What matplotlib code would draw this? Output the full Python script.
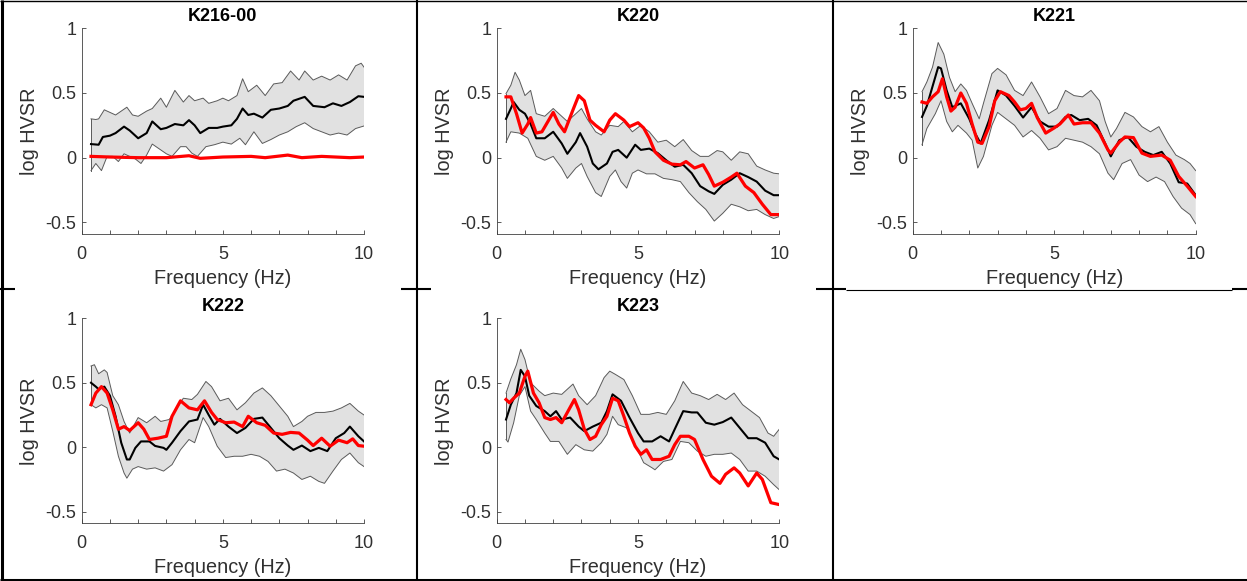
import matplotlib.pyplot as plt
from matplotlib.lines import Line2D
import numpy as np

plt.rcParams['font.family'] = ['Liberation Sans', 'DejaVu Sans']
plt.rcParams['lines.solid_joinstyle'] = 'round'

stations = ['K216-00', 'K220', 'K221', 'K222', 'K223']

# (frequency Hz, log HVSR)
k216_mean = [(0.33, 0.105), (0.6, 0.10), (0.75, 0.16), (1.0, 0.17), (1.2, 0.19), (1.5, 0.24), (1.7, 0.21),
             (2.0, 0.15), (2.3, 0.19), (2.5, 0.28), (2.8, 0.22), (3.0, 0.23), (3.3, 0.26), (3.6, 0.25),
             (3.8, 0.29), (4.0, 0.25), (4.2, 0.19), (4.5, 0.23), (4.8, 0.23), (5.0, 0.24), (5.3, 0.25),
             (5.5, 0.30), (5.7, 0.38), (5.9, 0.33), (6.1, 0.34), (6.4, 0.31), (6.7, 0.37), (7.0, 0.38),
             (7.3, 0.40), (7.5, 0.44), (7.9, 0.47), (8.2, 0.40), (8.6, 0.39), (8.9, 0.42), (9.2, 0.40),
             (9.5, 0.43), (9.8, 0.475), (10.0, 0.47)]
k216_upper = [(0.33, 0.30), (0.5, 0.295), (0.6, 0.30), (0.8, 0.37), (1.0, 0.35), (1.2, 0.33), (1.6, 0.39),
              (1.8, 0.33), (2.0, 0.32), (2.3, 0.36), (2.5, 0.38), (2.8, 0.46), (3.0, 0.39), (3.3, 0.52),
              (3.6, 0.43), (3.8, 0.48), (4.0, 0.44), (4.3, 0.46), (4.5, 0.42), (4.8, 0.44), (5.0, 0.46),
              (5.2, 0.44), (5.5, 0.48), (5.7, 0.61), (5.9, 0.51), (6.2, 0.56), (6.5, 0.48), (6.8, 0.57),
              (7.1, 0.58), (7.4, 0.67), (7.7, 0.60), (7.9, 0.67), (8.2, 0.60), (8.5, 0.63), (8.8, 0.60),
              (9.1, 0.64), (9.4, 0.60), (9.7, 0.71), (9.9, 0.73), (10.0, 0.70)]
k216_lower = [(0.33, -0.10), (0.5, -0.045), (0.7, -0.10), (0.9, 0.01), (1.1, 0.01), (1.3, -0.03), (1.5, 0.03),
              (1.7, 0.01), (1.9, -0.01), (2.1, -0.045), (2.3, 0.02), (2.5, 0.105), (2.8, 0.06), (3.0, 0.03),
              (3.2, 0.01), (3.5, 0.085), (3.7, 0.085), (3.9, 0.035), (4.1, 0.01), (4.4, 0.085), (4.7, 0.10),
              (5.0, 0.12), (5.3, 0.105), (5.6, 0.15), (5.8, 0.10), (6.1, 0.20), (6.4, 0.11), (6.7, 0.14),
              (7.0, 0.175), (7.3, 0.20), (7.6, 0.24), (7.9, 0.27), (8.2, 0.225), (8.5, 0.20), (8.8, 0.175),
              (9.1, 0.19), (9.4, 0.175), (9.7, 0.225), (10.0, 0.245)]
k216_site = [(0.33, 0.01), (1.0, 0.005), (2.0, 0.0), (3.0, 0.0), (3.8, 0.015), (4.2, -0.005), (5.0, 0.005),
             (6.0, 0.01), (6.5, 0.0), (7.3, 0.02), (7.8, 0.0), (8.5, 0.01), (9.0, 0.005), (9.5, 0.0),
             (10.0, 0.005)]

k220_mean = [(0.33, 0.30), (0.5, 0.38), (0.6, 0.43), (0.8, 0.37), (1.0, 0.34), (1.2, 0.26), (1.4, 0.15),
             (1.7, 0.15), (2.0, 0.20), (2.3, 0.11), (2.5, 0.03), (2.8, 0.12), (2.95, 0.19), (3.2, 0.085),
             (3.4, -0.045), (3.6, -0.09), (3.9, -0.045), (4.1, 0.045), (4.3, 0.06), (4.6, 0.0), (4.9, 0.10),
             (5.1, 0.06), (5.4, 0.07), (5.7, 0.035), (6.0, -0.02), (6.3, -0.07), (6.6, -0.055), (6.9, -0.12),
             (7.2, -0.22), (7.5, -0.26), (7.7, -0.28), (8.0, -0.21), (8.3, -0.17), (8.6, -0.12), (8.9, -0.15),
             (9.2, -0.185), (9.5, -0.255), (9.8, -0.29), (10.0, -0.29)]
k220_upper = [(0.33, 0.495), (0.5, 0.56), (0.65, 0.66), (0.8, 0.60), (1.0, 0.48), (1.2, 0.52), (1.4, 0.34),
              (1.7, 0.32), (2.0, 0.38), (2.2, 0.34), (2.5, 0.28), (2.8, 0.34), (3.0, 0.38), (3.2, 0.30),
              (3.5, 0.20), (3.7, 0.175), (4.0, 0.25), (4.3, 0.24), (4.5, 0.28), (4.8, 0.20), (5.1, 0.25),
              (5.4, 0.20), (5.7, 0.12), (6.0, 0.135), (6.3, 0.085), (6.6, 0.14), (6.9, 0.055), (7.2, 0.01),
              (7.5, 0.01), (7.8, 0.055), (8.0, 0.045), (8.3, -0.02), (8.6, 0.045), (8.9, 0.03), (9.2, -0.065),
              (9.5, -0.095), (9.8, -0.12), (10.0, -0.125)]
k220_lower = [(0.33, 0.12), (0.5, 0.20), (0.8, 0.19), (1.1, 0.15), (1.4, 0.01), (1.7, -0.02), (2.0, 0.01),
              (2.3, -0.08), (2.5, -0.16), (2.8, -0.08), (3.0, -0.045), (3.2, -0.145), (3.5, -0.27), (3.7, -0.30),
              (4.0, -0.145), (4.2, -0.095), (4.4, -0.185), (4.6, -0.235), (4.8, -0.12), (5.0, -0.095),
              (5.3, -0.125), (5.6, -0.125), (5.9, -0.16), (6.2, -0.17), (6.5, -0.185), (6.8, -0.27), (7.1, -0.34),
              (7.4, -0.40), (7.7, -0.49), (8.0, -0.43), (8.3, -0.36), (8.6, -0.38), (8.9, -0.41), (9.2, -0.40),
              (9.5, -0.44), (9.8, -0.47), (10.0, -0.455)]
k220_site = [(0.33, 0.47), (0.5, 0.47), (0.7, 0.34), (0.9, 0.19), (1.1, 0.26), (1.2, 0.31), (1.4, 0.19),
             (1.6, 0.20), (2.0, 0.35), (2.2, 0.26), (2.4, 0.20), (2.7, 0.37), (2.9, 0.48), (3.1, 0.44),
             (3.3, 0.29), (3.5, 0.25), (3.8, 0.20), (4.0, 0.29), (4.2, 0.34), (4.5, 0.29), (4.7, 0.24),
             (5.0, 0.27), (5.2, 0.23), (5.4, 0.15), (5.6, 0.045), (5.9, -0.02), (6.2, -0.05), (6.5, -0.055),
             (6.7, -0.03), (7.0, -0.08), (7.3, -0.055), (7.5, -0.13), (7.7, -0.22), (8.0, -0.19), (8.3, -0.15),
             (8.5, -0.12), (8.8, -0.22), (9.1, -0.27), (9.4, -0.36), (9.7, -0.44), (10.0, -0.44)]

k221_mean = [(0.33, 0.315), (0.5, 0.40), (0.7, 0.55), (0.9, 0.70), (1.0, 0.69), (1.2, 0.52), (1.4, 0.39),
             (1.7, 0.42), (2.0, 0.30), (2.2, 0.19), (2.4, 0.11), (2.7, 0.29), (3.0, 0.52), (3.3, 0.48),
             (3.6, 0.40), (3.9, 0.31), (4.2, 0.39), (4.5, 0.28), (4.8, 0.24), (5.1, 0.24), (5.4, 0.315),
             (5.6, 0.33), (5.9, 0.29), (6.2, 0.30), (6.5, 0.25), (6.8, 0.11), (7.0, 0.01), (7.3, 0.135),
             (7.6, 0.16), (7.9, 0.085), (8.2, 0.045), (8.5, 0.02), (8.8, 0.045), (9.1, -0.045), (9.4, -0.19),
             (9.7, -0.20), (10.0, -0.29)]
k221_upper = [(0.33, 0.51), (0.5, 0.585), (0.7, 0.70), (0.9, 0.89), (1.1, 0.80), (1.3, 0.62), (1.5, 0.51),
              (1.7, 0.57), (1.9, 0.52), (2.1, 0.42), (2.35, 0.30), (2.5, 0.42), (2.8, 0.65), (3.0, 0.69),
              (3.3, 0.64), (3.6, 0.52), (3.9, 0.48), (4.2, 0.585), (4.5, 0.47), (4.8, 0.34), (5.1, 0.38),
              (5.4, 0.52), (5.7, 0.48), (6.0, 0.47), (6.3, 0.52), (6.6, 0.44), (6.8, 0.28), (7.0, 0.16),
              (7.2, 0.225), (7.5, 0.35), (7.8, 0.315), (8.1, 0.24), (8.4, 0.20), (8.7, 0.24), (9.0, 0.12),
              (9.3, 0.02), (9.6, -0.015), (9.8, -0.045), (10.0, -0.10)]
k221_lower = [(0.33, 0.10), (0.5, 0.225), (0.8, 0.34), (1.0, 0.44), (1.2, 0.28), (1.4, 0.20), (1.6, 0.25),
              (1.9, 0.19), (2.1, 0.135), (2.3, -0.08), (2.5, 0.01), (2.8, 0.25), (3.0, 0.35), (3.3, 0.30),
              (3.6, 0.25), (3.9, 0.16), (4.2, 0.21), (4.5, 0.15), (4.8, 0.06), (5.1, 0.085), (5.4, 0.15),
              (5.7, 0.135), (6.0, 0.12), (6.3, 0.085), (6.6, 0.03), (6.9, -0.12), (7.1, -0.17), (7.4, -0.045),
              (7.7, -0.015), (8.0, -0.135), (8.3, -0.185), (8.6, -0.15), (8.9, -0.185), (9.2, -0.30),
              (9.5, -0.39), (9.8, -0.44), (10.0, -0.51)]
k221_site = [(0.33, 0.43), (0.5, 0.42), (0.7, 0.47), (0.9, 0.51), (1.05, 0.61), (1.2, 0.47), (1.35, 0.36),
             (1.5, 0.39), (1.7, 0.50), (1.9, 0.42), (2.1, 0.26), (2.3, 0.12), (2.45, 0.11), (2.7, 0.24),
             (2.9, 0.44), (3.1, 0.51), (3.4, 0.48), (3.6, 0.43), (3.8, 0.37), (4.0, 0.38), (4.2, 0.42),
             (4.4, 0.31), (4.7, 0.19), (5.0, 0.23), (5.2, 0.26), (5.5, 0.33), (5.7, 0.26), (6.0, 0.27),
             (6.3, 0.27), (6.6, 0.19), (6.9, 0.06), (7.0, 0.035), (7.3, 0.12), (7.5, 0.16), (7.8, 0.155),
             (8.1, 0.035), (8.4, 0.01), (8.8, 0.02), (9.1, -0.02), (9.4, -0.145), (9.7, -0.22), (10.0, -0.30)]

k222_mean = [(0.33, 0.50), (0.5, 0.47), (0.6, 0.45), (0.8, 0.47), (1.0, 0.40), (1.2, 0.24), (1.4, 0.035),
             (1.6, -0.095), (1.7, -0.095), (1.9, -0.005), (2.1, 0.045), (2.4, 0.045), (2.6, 0.01), (2.9, -0.005),
             (3.0, -0.02), (3.2, 0.035), (3.5, 0.125), (3.8, 0.20), (4.1, 0.215), (4.3, 0.33), (4.5, 0.25),
             (4.7, 0.175), (4.9, 0.22), (5.2, 0.16), (5.5, 0.11), (5.8, 0.15), (6.1, 0.22), (6.4, 0.23),
             (6.7, 0.15), (7.0, 0.07), (7.3, 0.013), (7.5, -0.02), (7.8, 0.013), (8.1, -0.03), (8.4, -0.005),
             (8.7, -0.03), (9.0, 0.07), (9.3, 0.11), (9.5, 0.16), (9.8, 0.085), (10.0, 0.045)]
k222_upper = [(0.33, 0.63), (0.45, 0.64), (0.6, 0.57), (0.8, 0.60), (0.9, 0.58), (1.1, 0.40), (1.3, 0.33),
              (1.5, 0.20), (1.7, 0.11), (2.0, 0.23), (2.3, 0.19), (2.6, 0.24), (2.8, 0.20), (3.1, 0.215),
              (3.3, 0.28), (3.6, 0.38), (3.9, 0.37), (4.1, 0.41), (4.4, 0.51), (4.6, 0.47), (4.9, 0.36),
              (5.2, 0.38), (5.5, 0.29), (5.8, 0.345), (6.1, 0.42), (6.4, 0.46), (6.7, 0.40), (7.0, 0.32),
              (7.3, 0.24), (7.5, 0.16), (7.8, 0.20), (8.0, 0.24), (8.3, 0.27), (8.6, 0.27), (8.9, 0.28),
              (9.2, 0.305), (9.5, 0.34), (9.8, 0.28), (10.0, 0.25)]
k222_lower = [(0.33, 0.33), (0.5, 0.305), (0.7, 0.33), (0.9, 0.305), (1.1, 0.125), (1.3, -0.07), (1.5, -0.20),
              (1.6, -0.24), (1.8, -0.17), (2.0, -0.15), (2.3, -0.17), (2.6, -0.16), (2.9, -0.185), (3.2, -0.135),
              (3.5, -0.02), (3.8, 0.06), (4.0, 0.035), (4.3, 0.23), (4.5, 0.16), (4.8, 0.008), (5.1, -0.08),
              (5.4, -0.07), (5.7, -0.07), (6.0, -0.055), (6.3, -0.07), (6.6, -0.11), (6.9, -0.185), (7.2, -0.17),
              (7.5, -0.20), (7.8, -0.25), (8.1, -0.225), (8.4, -0.265), (8.6, -0.28), (8.9, -0.185),
              (9.2, -0.095), (9.5, -0.045), (9.8, -0.12), (10.0, -0.15)]
k222_site = [(0.33, 0.33), (0.5, 0.42), (0.7, 0.47), (0.9, 0.42), (1.1, 0.29), (1.3, 0.14), (1.5, 0.16),
             (1.7, 0.13), (2.0, 0.19), (2.2, 0.14), (2.4, 0.06), (2.7, 0.07), (3.0, 0.085), (3.2, 0.24),
             (3.5, 0.36), (3.8, 0.305), (4.1, 0.29), (4.35, 0.36), (4.6, 0.27), (4.8, 0.215), (5.1, 0.19),
             (5.4, 0.195), (5.7, 0.16), (5.9, 0.24), (6.2, 0.19), (6.5, 0.17), (6.8, 0.11), (7.1, 0.10),
             (7.4, 0.115), (7.7, 0.11), (8.0, 0.055), (8.2, 0.013), (8.5, 0.07), (8.8, 0.008), (9.1, 0.055),
             (9.4, 0.035), (9.6, 0.065), (9.8, 0.013), (10.0, 0.008)]

k223_mean = [(0.33, 0.215), (0.5, 0.33), (0.7, 0.42), (0.85, 0.60), (1.0, 0.55), (1.15, 0.40), (1.4, 0.32),
             (1.7, 0.28), (1.9, 0.24), (2.1, 0.28), (2.3, 0.215), (2.6, 0.23), (2.9, 0.16), (3.1, 0.125),
             (3.4, 0.16), (3.7, 0.19), (3.9, 0.28), (4.1, 0.41), (4.4, 0.36), (4.7, 0.23), (5.0, 0.11),
             (5.2, 0.045), (5.5, 0.045), (5.8, 0.085), (6.1, 0.045), (6.3, 0.14), (6.6, 0.28), (6.9, 0.27),
             (7.1, 0.27), (7.4, 0.19), (7.7, 0.175), (8.0, 0.195), (8.3, 0.23), (8.6, 0.15), (8.9, 0.07),
             (9.2, 0.07), (9.5, 0.035), (9.8, -0.07), (10.0, -0.095)]
k223_upper = [(0.33, 0.42), (0.5, 0.53), (0.7, 0.64), (0.85, 0.76), (1.0, 0.68), (1.2, 0.50), (1.5, 0.435),
              (1.7, 0.40), (2.0, 0.42), (2.3, 0.41), (2.5, 0.45), (2.7, 0.49), (2.9, 0.40), (3.2, 0.33),
              (3.5, 0.40), (3.8, 0.54), (4.0, 0.59), (4.2, 0.565), (4.5, 0.525), (4.8, 0.40), (5.1, 0.255),
              (5.4, 0.255), (5.7, 0.27), (6.0, 0.255), (6.3, 0.36), (6.6, 0.51), (6.9, 0.42), (7.2, 0.40),
              (7.5, 0.37), (7.8, 0.41), (8.1, 0.37), (8.4, 0.42), (8.7, 0.33), (9.0, 0.28), (9.3, 0.23),
              (9.6, 0.11), (9.8, 0.085), (10.0, 0.14)]
k223_lower = [(0.33, 0.06), (0.4, 0.04), (0.6, 0.19), (0.8, 0.40), (1.0, 0.47), (1.2, 0.28), (1.4, 0.215),
              (1.7, 0.11), (1.9, 0.045), (2.2, 0.045), (2.5, -0.055), (2.8, 0.02), (3.1, -0.02), (3.4, -0.03),
              (3.7, 0.035), (3.9, 0.10), (4.1, 0.24), (4.3, 0.175), (4.6, 0.15), (4.9, 0.02), (5.2, -0.12),
              (5.5, -0.16), (5.6, -0.175), (5.9, -0.11), (6.2, -0.095), (6.5, 0.045), (6.8, 0.035), (7.1, -0.03),
              (7.4, -0.07), (7.7, -0.055), (8.0, -0.055), (8.3, -0.045), (8.6, -0.095), (8.9, -0.185),
              (9.2, -0.185), (9.5, -0.225), (9.8, -0.29), (10.0, -0.33)]
k223_site = [(0.33, 0.37), (0.45, 0.345), (0.6, 0.38), (0.8, 0.42), (1.0, 0.55), (1.1, 0.59), (1.3, 0.42),
             (1.5, 0.345), (1.7, 0.23), (1.9, 0.215), (2.1, 0.23), (2.3, 0.19), (2.5, 0.27), (2.75, 0.37),
             (2.9, 0.29), (3.1, 0.14), (3.3, 0.06), (3.5, 0.085), (3.7, 0.175), (3.9, 0.24), (4.1, 0.38),
             (4.3, 0.36), (4.5, 0.24), (4.7, 0.11), (4.9, 0.008), (5.1, -0.055), (5.3, -0.02), (5.5, -0.095),
             (5.8, -0.095), (6.1, -0.07), (6.3, 0.02), (6.5, 0.085), (6.8, 0.085), (7.0, 0.06), (7.3, -0.095),
             (7.6, -0.225), (7.9, -0.28), (8.1, -0.21), (8.4, -0.16), (8.6, -0.20), (8.9, -0.30), (9.2, -0.20),
             (9.4, -0.25), (9.7, -0.43), (10.0, -0.445)]

xtick_vals = list(range(11))
xtick_text = ['0', '', '', '', '', '5', '', '', '', '', '10']
ytick_vals = [-0.5, 0, 0.5, 1]
ytick_text = ['-0.5', '0', '0.5', '1']

panels = [
    (k216_mean, k216_upper, k216_lower, k216_site),
    (k220_mean, k220_upper, k220_lower, k220_site),
    (k221_mean, k221_upper, k221_lower, k221_site),
    (k222_mean, k222_upper, k222_lower, k222_site),
    (k223_mean, k223_upper, k223_lower, k223_site),
]

W, H = 1247, 581
# axes boxes in pixels: left, top, right, bottom
boxes = [(81.7, 28.3, 364, 234), (496.7, 28.3, 779.3, 234), (912.7, 28.3, 1195.7, 234),
         (81.7, 318.3, 364, 523.3), (496.7, 318.3, 779.3, 523.3)]

axis_gray = '#404040'

fig = plt.figure(figsize=(W / 100, H / 100), dpi=100)

for name, (mean, upper, lower, site), (l, t, r, b) in zip(stations, panels, boxes):
    ax = fig.add_axes([l / W, 1 - b / H, (r - l) / W, (b - t) / H])
    mean = np.array(mean)
    upper = np.array(upper)
    lower = np.array(lower)
    site = np.array(site)

    px = np.concatenate([upper[:, 0], lower[::-1, 0]])
    py = np.concatenate([upper[:, 1], lower[::-1, 1]])
    ax.fill(px, py, color='#e1e1e1', lw=0, zorder=1)
    ax.plot(upper[:, 0], upper[:, 1], color='#5a5a5a', lw=0.7, zorder=2)
    ax.plot(lower[:, 0], lower[:, 1], color='#5a5a5a', lw=0.7, zorder=2)
    ax.plot([lower[0, 0], upper[0, 0]], [lower[0, 1], upper[0, 1]], color='#5a5a5a', lw=0.7, zorder=2)
    ax.plot(mean[:, 0], mean[:, 1], color='black', lw=1.5, zorder=3)
    ax.plot(site[:, 0], site[:, 1], color='#ff0000', lw=2.3, zorder=4)

    ax.set_xlim(0, 10)
    ax.set_ylim(-0.59, 1)
    ax.set_xticks(xtick_vals)
    ax.set_xticklabels(xtick_text)
    ax.set_yticks(ytick_vals)
    ax.set_yticklabels(ytick_text)
    ax.tick_params(axis='both', direction='in', length=3, width=0.6, color=axis_gray,
                   labelcolor='#303030', labelsize=13)
    ax.tick_params(axis='x', pad=8.5)
    ax.tick_params(axis='y', pad=4)
    for side in ['top', 'right']:
        ax.spines[side].set_visible(False)
    for side in ['left', 'bottom']:
        ax.spines[side].set_color(axis_gray)
        ax.spines[side].set_linewidth(0.6)

    ax.set_xlabel('Frequency (Hz)', fontsize=14.3, color='#303030')
    ax.set_ylabel('log HVSR', fontsize=14.3, color='#303030')
    ax.xaxis.set_label_coords(0.5, -0.17)
    ax.yaxis.set_label_coords(-0.152, 0.5)
    ax.set_title(name, fontsize=13, fontweight='bold', pad=5)

# table-like frame around the panels
def frame_line(x0, y0, x1, y1, width):
    fig.add_artist(Line2D([x0 / W, x1 / W], [1 - y0 / H, 1 - y1 / H], color='black', lw=width,
                          transform=fig.transFigure, solid_capstyle='butt'))

frame_line(0, 0.6, W, 0.6, 1.0)
frame_line(2, 0, 2, H, 2.2)
frame_line(0, 579.5, W, 579.5, 2.2)
frame_line(416.5, 0, 416.5, H, 1.5)
frame_line(832.8, 0, 832.8, H, 1.5)
frame_line(0, 289, 15, 289, 1.5)
frame_line(401, 289, 431, 289, 1.5)
frame_line(816, 289, 846, 289, 1.5)
frame_line(846, 289.5, 1232, 289.5, 0.8)
frame_line(1232, 289, W, 289, 1.5)

fig.savefig('out.png', dpi=100)
